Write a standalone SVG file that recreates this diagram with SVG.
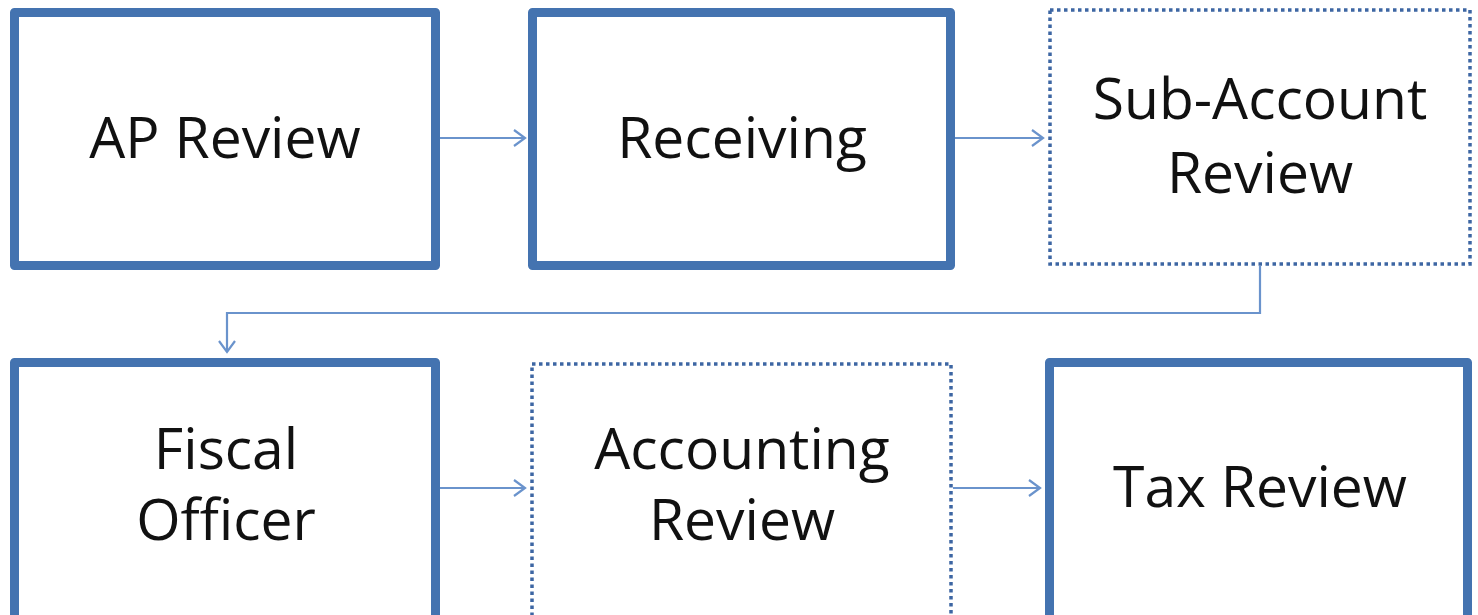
<svg xmlns="http://www.w3.org/2000/svg" width="1478" height="615" viewBox="0 0 1478 615">
<defs>
<style>
.solid{fill:#fff;stroke:#4473b0;stroke-width:9;stroke-linejoin:round}
.dot{fill:#fff;stroke:#3d66a3;stroke-width:3.5;stroke-dasharray:3.5 3.5}
.lbl{font-family:"Open Sans","Liberation Sans",sans-serif;font-size:57px;fill:#111;text-anchor:middle}
.conn{fill:none;stroke:#6a93cc;stroke-width:2.2}
</style>
<marker id="arr" viewBox="0 0 14 18" refX="12" refY="9" markerWidth="14" markerHeight="18" markerUnits="userSpaceOnUse" orient="auto">
<path d="M1,1 L12,9 L1,17" fill="none" stroke="#6a93cc" stroke-width="2.2"/>
</marker>
</defs>
<rect width="1478" height="615" fill="#fff"/>
<g id="connectors">
<path class="conn" d="M440,138 H525" marker-end="url(#arr)"/>
<path class="conn" d="M955,138 H1043" marker-end="url(#arr)"/>
<path class="conn" d="M1260,266 V313 H227 V352" marker-end="url(#arr)"/>
<path class="conn" d="M440,488 H525" marker-end="url(#arr)"/>
<path class="conn" d="M953,488 H1040" marker-end="url(#arr)"/>
</g>
<g id="ap-review">
<rect class="solid" x="14.5" y="12.5" width="421" height="253"/>
<text class="lbl" x="225" y="158">AP Review</text>
</g>
<g id="receiving">
<rect class="solid" x="532.5" y="12.5" width="418" height="253"/>
<text class="lbl" x="742" y="158">Receiving</text>
</g>
<g id="sub-account-review">
<rect class="dot" x="1050" y="10" width="420" height="254"/>
<text class="lbl" x="1260" y="119">Sub-Account</text>
<text class="lbl" x="1260" y="193">Review</text>
</g>
<g id="fiscal-officer">
<rect class="solid" x="14.5" y="362.5" width="421" height="260"/>
<text class="lbl" x="226" y="469">Fiscal</text>
<text class="lbl" x="226" y="540">Officer</text>
</g>
<g id="accounting-review">
<rect class="dot" x="532" y="364" width="419" height="260"/>
<text class="lbl" x="742" y="469">Accounting</text>
<text class="lbl" x="742" y="540">Review</text>
</g>
<g id="tax-review">
<rect class="solid" x="1049.5" y="362.5" width="418" height="260"/>
<text class="lbl" x="1260" y="507">Tax Review</text>
</g>
</svg>
